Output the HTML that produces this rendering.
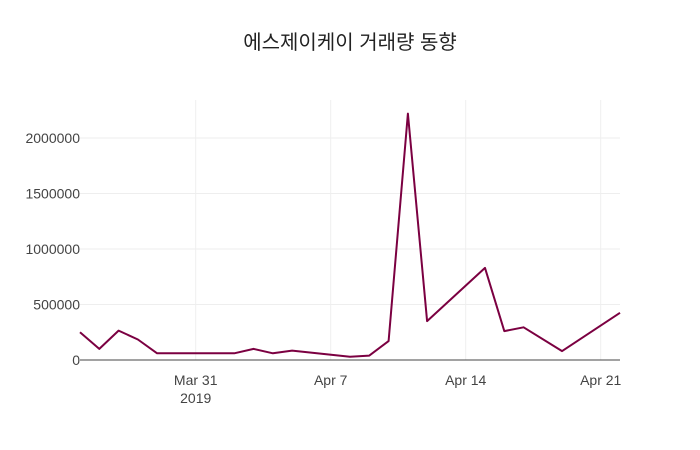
<!DOCTYPE html>
<html><head><meta charset="utf-8">
<style>
body{margin:0;background:#fff;}
svg{display:block;font-family:"Liberation Sans","Noto Sans CJK KR",sans-serif;}
</style></head>
<body>
<svg id="chart" width="700" height="450">
<rect width="700" height="450" fill="#fff"/>
<text x="350" y="49" text-anchor="middle" font-size="20" fill="#222">에스제이케이 거래량 동향</text>
<g id="grid"></g><g id="axes"></g><g id="series"></g>
</svg>
<script>
const dates = ["2019-03-25","2019-03-26","2019-03-27","2019-03-28","2019-03-29","2019-04-01","2019-04-02","2019-04-03","2019-04-04","2019-04-05","2019-04-08","2019-04-09","2019-04-10","2019-04-11","2019-04-12","2019-04-15","2019-04-16","2019-04-17","2019-04-19","2019-04-22"];
const volumes = [250000,100000,265000,185000,60000,60000,60000,100000,60000,85000,30000,40000,170000,2220000,350000,830000,260000,295000,80000,425000];
const yTicks = [0,500000,1000000,1500000,2000000];
const xTickDates = ["2019-03-31","2019-04-07","2019-04-14","2019-04-21"];
const xTickLabels = ["Mar 31","Apr 7","Apr 14","Apr 21"];

const NS="http://www.w3.org/2000/svg";
const x0=80,x1=620,yBase=360,yTop=100;
const dStart=Date.parse("2019-03-25"),dEnd=Date.parse("2019-04-22");
const xs=d=>x0+(Date.parse(d)-dStart)/(dEnd-dStart)*(x1-x0);
const ys=v=>yBase-v/2000000*222;
function mk(tag,attrs,parent){const e=document.createElementNS(NS,tag);for(const k in attrs)e.setAttribute(k,attrs[k]);parent.appendChild(e);return e;}
const grid=document.getElementById('grid'),axes=document.getElementById('axes'),series=document.getElementById('series');
yTicks.forEach(v=>{
  if(v>0){const l=mk('line',{x1:x0,x2:x1,y1:ys(v),y2:ys(v),stroke:'#eee','stroke-width':1},grid);
  
  }
  const t=mk('text',{x:x0,y:ys(v)+5,'text-anchor':'end','font-size':14,fill:'#444'},axes);
  t.textContent=v;
  
  
});
xTickDates.forEach((d,i)=>{
  const x=xs(d);
  const l=mk('line',{x1:x,x2:x,y1:yTop,y2:yBase,stroke:'#eee','stroke-width':1},grid);
  
  
  const t=mk('text',{x:x,y:385,'text-anchor':'middle','font-size':14,fill:'#444'},axes);
  t.textContent=xTickLabels[i];
  
  
});
const yr=mk('text',{x:xs(xTickDates[0]),y:403,'text-anchor':'middle','font-size':14,fill:'#444'},axes);
yr.textContent="2019";


const zl=mk('line',{x1:x0,x2:x1,y1:yBase,y2:yBase,stroke:'#444','stroke-width':1},axes);


const pts=dates.map((d,i)=>xs(d).toFixed(1)+','+ys(volumes[i]).toFixed(1)).join(' ');
const pl=mk('polyline',{points:pts,fill:'none',stroke:'#7b0041','stroke-width':2,'stroke-linejoin':'round'},series);


</script>
</body></html>
